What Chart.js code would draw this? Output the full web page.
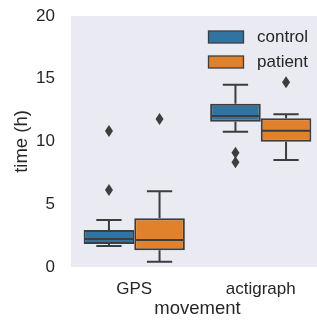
<!DOCTYPE html>
<html>
<head>
<meta charset="utf-8">
<script src="https://cdn.jsdelivr.net/npm/chart.js@4.4.1/dist/chart.umd.min.js"></script>
<style>
html,body{margin:0;padding:0;background:#fff;overflow:hidden;}
#wrap{width:330px;height:320px;}
</style>
</head>
<body>
<div id="wrap"><canvas id="c" width="330" height="320"></canvas></div>
<script>
// ---- data ----
const categories = ['GPS', 'actigraph'];
const seriesNames = ['control', 'patient'];
const yTicks = [0, 5, 10, 15, 20];

const controlLow      = [1.67, 10.78];
const controlQ1       = [1.83, 11.58];
const controlMedian   = [2.23, 12.03];
const controlQ3       = [2.95, 13.00];
const controlHigh     = [3.75, 14.53];
const controlOutliers = [[6.14, 10.84], [9.11, 8.35]];

const patientLow      = [0.42, 8.53];
const patientQ1       = [1.33, 9.98];
const patientMedian   = [2.15, 10.86];
const patientQ3       = [3.88, 11.85];
const patientHigh     = [6.03, 12.17];
const patientOutliers = [[11.8], [14.72]];

// ---- styling ----
const colors = ['#3274A1', '#E1812C'];
const edge = '#3d3d3d';
const textColor = '#262626';
const FONT = 'Liberation Sans, Arial, sans-serif';

const stats = [
  {low: controlLow, q1: controlQ1, med: controlMedian, q3: controlQ3, high: controlHigh, out: controlOutliers},
  {low: patientLow, q1: patientQ1, med: patientMedian, q3: patientQ3, high: patientHigh, out: patientOutliers}
];

const datasets = seriesNames.map((name, s) => ({
  label: name,
  data: categories.map((c, i) => [stats[s].q1[i], stats[s].q3[i]]),
  backgroundColor: colors[s],
  borderColor: edge,
  borderWidth: 2,
  borderSkipped: false,
  categoryPercentage: 0.8,
  barPercentage: 1.0
}));

const bgPlugin = {
  id: 'bg',
  beforeDraw(chart) {
    const {ctx, chartArea: a} = chart;
    ctx.save();
    ctx.fillStyle = '#EAEAF2';
    ctx.fillRect(a.left, a.top, a.right - a.left, a.bottom - a.top);
    ctx.restore();
  }
};

const boxPlugin = {
  id: 'boxparts',
  afterDatasetsDraw(chart) {
    const {ctx} = chart;
    const y = chart.scales.y;
    ctx.save();
    ctx.strokeStyle = edge;
    ctx.fillStyle = edge;
    ctx.lineWidth = 2;
    ctx.lineCap = 'butt';
    chart.data.datasets.forEach((ds, s) => {
      const meta = chart.getDatasetMeta(s);
      meta.data.forEach((bar, i) => {
        const st = stats[s];
        const x = bar.x, w = bar.width;
        const yq1 = y.getPixelForValue(st.q1[i]);
        const yq3 = y.getPixelForValue(st.q3[i]);
        const ylo = y.getPixelForValue(st.low[i]);
        const yhi = y.getPixelForValue(st.high[i]);
        const ym = y.getPixelForValue(st.med[i]);
        ctx.beginPath();
        ctx.moveTo(x, yq1); ctx.lineTo(x, ylo);
        ctx.moveTo(x, yq3); ctx.lineTo(x, yhi);
        ctx.moveTo(x - w / 4, ylo); ctx.lineTo(x + w / 4, ylo);
        ctx.moveTo(x - w / 4, yhi); ctx.lineTo(x + w / 4, yhi);
        ctx.moveTo(x - w / 2 + 1, ym); ctx.lineTo(x + w / 2 - 1, ym);
        ctx.stroke();
        st.out[i].forEach(v => {
          const yo = y.getPixelForValue(v);
          ctx.beginPath();
          ctx.moveTo(x, yo - 6);
          ctx.lineTo(x + 4, yo);
          ctx.lineTo(x, yo + 6);
          ctx.lineTo(x - 4, yo);
          ctx.closePath();
          ctx.fill();
        });
      });
    });
    ctx.restore();
  }
};

const legendPlugin = {
  id: 'legendInside',
  afterDraw(chart) {
    const {ctx} = chart;
    ctx.save();
    ctx.font = '17px ' + FONT;
    ctx.textBaseline = 'middle';
    ctx.textAlign = 'left';
    chart.data.datasets.forEach((ds, s) => {
      const top = 31 + s * 25;
      ctx.fillStyle = ds.backgroundColor;
      ctx.fillRect(208.5, top, 35, 12);
      ctx.strokeStyle = edge;
      ctx.lineWidth = 1.3;
      ctx.strokeRect(208.5, top, 35, 12);
      ctx.fillStyle = textColor;
      ctx.fillText(ds.label, 257, top + 6.5);
    });
    ctx.restore();
  }
};

new Chart(document.getElementById('c'), {
  type: 'bar',
  data: {labels: categories, datasets},
  options: {
    responsive: false,
    animation: false,
    devicePixelRatio: 1,
    layout: {padding: {top: 16, right: 6, left: 0, bottom: 0}},
    plugins: {legend: {display: false}, tooltip: {enabled: false}},
    scales: {
      x: {
        offset: true,
        grid: {display: false, drawTicks: false},
        border: {display: false},
        ticks: {color: textColor, font: {size: 17, family: FONT}, padding: 12},
        title: {display: true, text: 'movement', color: textColor, font: {size: 18.5, family: FONT}, padding: {top: 0, bottom: 0}},
        afterFit(s) { s.height = 53; s.paddingLeft = 0; s.paddingRight = 0; }
      },
      y: {
        min: 0, max: 20,
        afterBuildTicks(s) { s.ticks = yTicks.map(v => ({value: v})); },
        grid: {display: false, drawTicks: false},
        border: {display: false},
        ticks: {color: textColor, font: {size: 17, family: FONT}, padding: 16},
        title: {display: true, text: 'time (h)', color: textColor, font: {size: 18.5, family: FONT}, padding: {top: 11, bottom: 0}},
        afterFit(s) { s.width = 71; s.paddingTop = 0; s.paddingBottom = 0; }
      }
    }
  },
  plugins: [bgPlugin, boxPlugin, legendPlugin]
});
</script>
</body>
</html>
